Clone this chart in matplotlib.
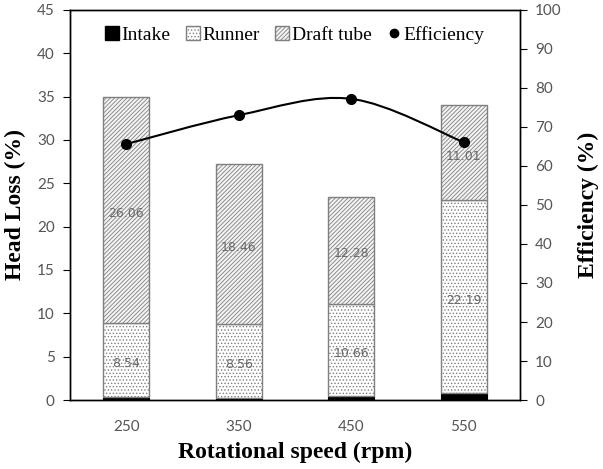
import matplotlib.pyplot as plt
from matplotlib.path import Path
from matplotlib.patches import PathPatch, Patch
from matplotlib.lines import Line2D
import numpy as np

speeds = ["250", "350", "450", "550"]
intake = [0.35, 0.25, 0.45, 0.84]
runner = [8.54, 8.56, 10.66, 22.19]
draft_tube = [26.06, 18.46, 12.28, 11.01]
efficiency = [65.6, 73.0, 77.2, 66.1]

plt.rcParams['hatch.linewidth'] = 0.6
plt.rcParams['hatch.color'] = '#7a7a7a'

def smooth_path(x, y, t=0.5):
	# excel style smoothed line: bezier segments through the points
	x = np.asarray(x, float)
	y = np.asarray(y, float)
	verts = [(x[0], y[0])]
	codes = [Path.MOVETO]
	n = len(x)
	for i in range(n - 1):
		x0, y0 = (x[i - 1], y[i - 1]) if i > 0 else (x[i], y[i])
		x3, y3 = (x[i + 2], y[i + 2]) if i + 2 < n else (x[i + 1], y[i + 1])
		c1 = (x[i] + (x[i + 1] - x0) * t / 3, y[i] + (y[i + 1] - y0) * t / 3)
		c2 = (x[i + 1] - (x3 - x[i]) * t / 3, y[i + 1] - (y3 - y[i]) * t / 3)
		verts += [c1, c2, (x[i + 1], y[i + 1])]
		codes += [Path.CURVE4] * 3
	return Path(verts, codes)

fig = plt.figure(figsize=(6.03, 4.69), dpi=100)
ax = fig.add_axes([0.116, 0.147, 0.746, 0.832])
xpos = np.arange(len(speeds))
w = 0.41
edge = '#7f7f7f'
tickcol = '#555555'
serif = 'Liberation Serif'

intake = np.array(intake)
runner = np.array(runner)
draft_tube = np.array(draft_tube)

ax.bar(xpos, intake, w, color='black', edgecolor='black', lw=0.8, zorder=2)
ax.bar(xpos, runner, w, bottom=intake, color='white', edgecolor=edge,
	hatch='.....', lw=1.0, zorder=2)
ax.bar(xpos, draft_tube, w, bottom=intake + runner, color='#f4f4f4', edgecolor=edge,
	hatch='////////', lw=1.0, zorder=2)

for i in range(len(speeds)):
	ax.text(xpos[i], intake[i] + runner[i] / 2 - 0.4, f"{runner[i]:.2f}",
		ha='center', va='center', fontsize=9, color='#6a6a6a', zorder=4)
	ax.text(xpos[i], intake[i] + runner[i] + draft_tube[i] / 2 - 0.4, f"{draft_tube[i]:.2f}",
		ha='center', va='center', fontsize=9, color='#6a6a6a', zorder=4)

ax.set_xlim(-0.5, len(speeds) - 0.5)
ax.set_ylim(0, 45)
ax.set_yticks(range(0, 46, 5))
ax.set_xticks(xpos)
ax.set_xticklabels(speeds, family='Lato')
ax.set_yticklabels([str(v) for v in range(0, 46, 5)], family='Lato')
ax.tick_params(axis='x', length=0, pad=14, labelsize=11, labelcolor=tickcol)
ax.tick_params(axis='y', direction='out', length=5, labelsize=11, labelcolor=tickcol, pad=6)
ax.set_ylabel("Head Loss (%)", family=serif, fontweight='bold', fontsize=17)
ax.yaxis.set_label_coords(-0.097, 0.5)
ax.set_xlabel("Rotational speed (rpm)", family=serif, fontweight='bold', fontsize=17)
ax.xaxis.set_label_coords(0.5, -0.108)

ax2 = ax.twinx()
ax2.set_ylim(0, 100)
ax2.set_yticks(range(0, 101, 10))
ax2.set_yticklabels([str(v) for v in range(0, 101, 10)], family='Lato')
ax2.tick_params(axis='y', direction='out', length=5, labelsize=11, labelcolor=tickcol, pad=6)
ax2.set_ylabel("Efficiency (%)", family=serif, fontweight='bold', fontsize=17)
ax2.yaxis.set_label_coords(1.128, 0.5)
ax2.add_patch(PathPatch(smooth_path(xpos, efficiency), fill=False, lw=1.5, ec='black', zorder=5))
ax2.plot(xpos, efficiency, 'o', color='black', ms=7, zorder=6)

for a in (ax, ax2):
	for s in a.spines.values():
		s.set_linewidth(1.0)

handles = [
	Patch(facecolor='black', edgecolor='black'),
	Patch(facecolor='white', edgecolor=edge, hatch='.....'),
	Patch(facecolor='#f4f4f4', edgecolor=edge, hatch='////////'),
	Line2D([], [], marker='o', ls='none', color='black', ms=6),
]
ax2.legend(handles, ["Intake", "Runner", "Draft tube", "Efficiency"], loc='center',
	ncol=4, frameon=False, prop={'family': serif, 'size': 14},
	handlelength=0.7, handleheight=0.7, handletextpad=0.15, columnspacing=0.8,
	bbox_to_anchor=(0.5, 0.936))

fig.savefig("out.png", dpi=100)
